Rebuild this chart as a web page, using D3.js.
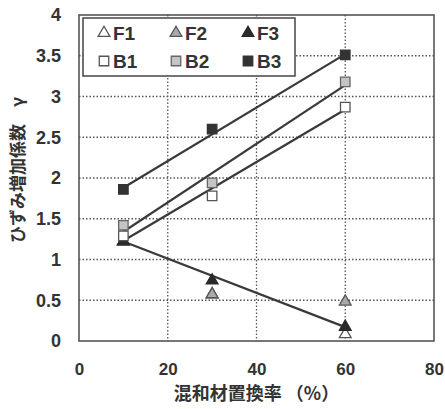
<!DOCTYPE html>
<html>
<head>
<meta charset="utf-8">
<script src="https://cdn.jsdelivr.net/npm/d3@7"></script>
<style>
  body { margin: 0; background: #fff; }
  text { font-family: "Liberation Sans", Arial, sans-serif; font-weight: bold; fill: #333; }
  .jp { font-family: "Noto Sans CJK JP", sans-serif; font-weight: bold; }
</style>
</head>
<body>
<div id="chart"></div>
<script>
// replacement ratio (%)
var xValues = [10, 30, 60];

// strain increase factor per series
var F1 = [1.21, 0.56, 0.07];
var F2 = [1.21, 0.56, 0.47];
var F3 = [1.21, 0.73, 0.16];
var B1 = [1.29, 1.78, 2.87];
var B2 = [1.42, 1.94, 3.18];
var B3 = [1.86, 2.60, 3.51];

// trend lines, read at x=10 and x=60
var trendNames = ["F", "B1", "B2", "B3"];
var trendStart = [1.22, 1.23, 1.34, 1.88];
var trendEnd = [0.17, 2.84, 3.14, 3.52];
var trendX = [10, 60];

var xTicks = [0, 20, 40, 60, 80];
var yTicks = [0, 0.5, 1, 1.5, 2, 2.5, 3, 3.5, 4];

var W = 445, H = 409;
var margin = {top: 15, right: 11, bottom: 68, left: 79},
    width = W - margin.left - margin.right,
    height = H - margin.top - margin.bottom;

var svg = d3.select("#chart").append("svg")
    .attr("width", W)
    .attr("height", H);

var g = svg.append("g")
    .attr("transform", "translate(" + margin.left + "," + margin.top + ")");

var x = d3.scaleLinear().domain([0, 80]).range([0, width]);
var y = d3.scaleLinear().domain([0, 4]).range([height, 0]);

//dotted grid
g.selectAll(".hgrid")
    .data(yTicks.filter(function(d) { return d > 0 && d < 4; }))
    .enter().append("line")
    .attr("x1", 0).attr("x2", width)
    .attr("y1", function(d) { return y(d); })
    .attr("y2", function(d) { return y(d); })
    .attr("stroke", "#555")
    .attr("stroke-width", 1.3)
    .attr("stroke-dasharray", "1.5,2");

g.selectAll(".vgrid")
    .data(xTicks.filter(function(d) { return d > 0 && d < 80; }))
    .enter().append("line")
    .attr("y1", 0).attr("y2", height)
    .attr("x1", function(d) { return x(d); })
    .attr("x2", function(d) { return x(d); })
    .attr("stroke", "#555")
    .attr("stroke-width", 1.3)
    .attr("stroke-dasharray", "1.5,2");

//axes, labels only
var xAxis = d3.axisBottom(x).tickValues(xTicks).tickSize(0).tickPadding(22);
var yAxis = d3.axisLeft(y).tickValues(yTicks).tickSize(0).tickPadding(18)
    .tickFormat(function(d) { return d; });

g.append("g")
    .attr("transform", "translate(0," + height + ")")
    .call(xAxis)
    .call(function(a) { a.select(".domain").remove(); })
    .selectAll("text")
    .style("font-size", "17px");

g.append("g")
    .call(yAxis)
    .call(function(a) { a.select(".domain").remove(); })
    .selectAll("text")
    .style("font-size", "18px");

//trend lines
var trends = trendNames.map(function(n, i) {
  return [[trendX[0], trendStart[i]], [trendX[1], trendEnd[i]]];
});
var line = d3.line()
    .x(function(d) { return x(d[0]); })
    .y(function(d) { return y(d[1]); });

g.selectAll(".trend")
    .data(trends)
    .enter().append("path")
    .attr("d", line)
    .attr("fill", "none")
    .attr("stroke", "#3a3a3a")
    .attr("stroke-width", 2.2);

//markers
var series = [
  {name: "F1", values: F1, shape: d3.symbolTriangle, fill: "#fff", stroke: "#555"},
  {name: "F2", values: F2, shape: d3.symbolTriangle, fill: "#aaa", stroke: "#555"},
  {name: "F3", values: F3, shape: d3.symbolTriangle, fill: "#2a2a2a", stroke: "#2a2a2a"},
  {name: "B1", values: B1, shape: d3.symbolSquare, fill: "#fff", stroke: "#555"},
  {name: "B2", values: B2, shape: d3.symbolSquare, fill: "#c4c4c4", stroke: "#666"},
  {name: "B3", values: B3, shape: d3.symbolSquare, fill: "#333", stroke: "#333"}
];

function symbolPath(s) {
  var size = s.shape === d3.symbolSquare ? 90 : 60;
  return d3.symbol().type(s.shape).size(size)();
}

series.forEach(function(s) {
  g.selectAll(".pt-" + s.name)
      .data(s.values)
      .enter().append("path")
      .attr("d", symbolPath(s))
      .attr("transform", function(d, i) {
        var dy = s.shape === d3.symbolTriangle ? -1 : 0;
        return "translate(" + x(xValues[i]) + "," + (y(d) + dy) + ")";
      })
      .attr("fill", s.fill)
      .attr("stroke", s.stroke)
      .attr("stroke-width", 1.3);
});

//plot frame
g.append("rect")
    .attr("width", width)
    .attr("height", height)
    .attr("fill", "none")
    .attr("stroke", "#555")
    .attr("stroke-width", 1.6);

//legend
var legend = svg.append("g").attr("transform", "translate(83,18)");
legend.append("rect")
    .attr("width", 212).attr("height", 58)
    .attr("fill", "#fff")
    .attr("stroke", "#444")
    .attr("stroke-width", 1.5);

series.forEach(function(s, i) {
  var col = i % 3, row = Math.floor(i / 3);
  var lg = legend.append("g")
      .attr("transform", "translate(" + (21 + col * 72) + "," + (15 + row * 28) + ")");
  lg.append("path")
      .attr("d", symbolPath(s))
      .attr("fill", s.fill)
      .attr("stroke", s.stroke)
      .attr("stroke-width", 1.3);
  lg.append("text")
      .attr("x", 9)
      .attr("dy", "0.36em")
      .style("font-size", "19px")
      .text(s.name);
});

//axis titles
svg.append("text")
    .attr("class", "jp")
    .attr("x", margin.left + x(40))
    .attr("y", 400)
    .attr("text-anchor", "middle")
    .style("font-size", "18px")
    .text("混和材置換率 （%）");

svg.append("text")
    .attr("class", "jp")
    .attr("transform", "translate(24,170) rotate(-90)")
    .attr("text-anchor", "middle")
    .style("font-size", "17px")
    .text("ひずみ増加係数　γ");
</script>
</body>
</html>
